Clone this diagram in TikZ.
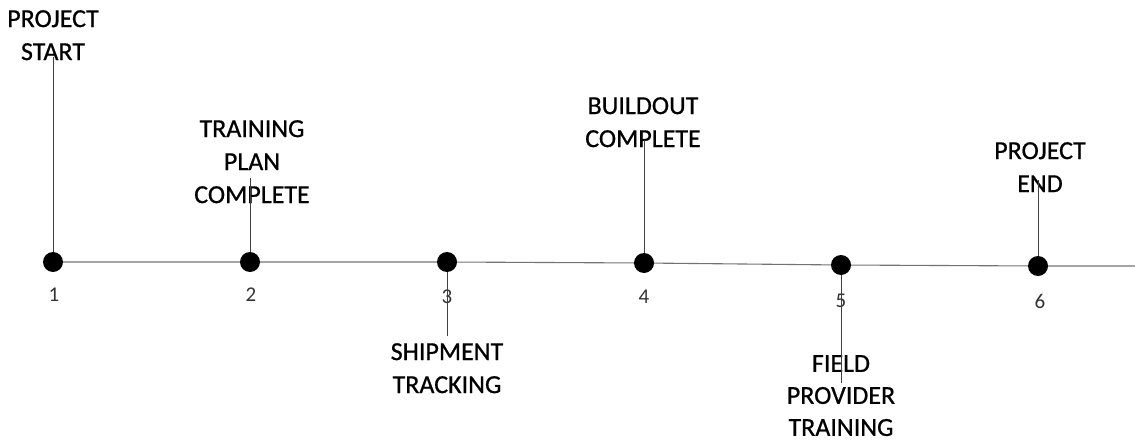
\documentclass[tikz,border=0pt]{standalone}
\usepackage{fontspec}
\setmainfont{Carlito}
\newfontfamily\lblfont{Carlito}[FakeBold=0.7]
\begin{document}
\begin{tikzpicture}[x=1pt,y=-1pt,
  dot/.style={circle,fill=black,inner sep=0pt,minimum size=20pt},
  lbl/.style={anchor=north,inner sep=0pt,align=center,font=\lblfont\fontsize{26}{33}\selectfont},
  num/.style={inner sep=0pt,text=black!80,font=\fontsize{21}{24}\selectfont},
  axis/.style={draw=black!55,line width=1.1pt},
  stem/.style={draw=black!75,line width=0.9pt}]
\useasboundingbox (0,0) rectangle (1135,444);
% dots
\node[dot] (d1) at (53,262) {};
\node[dot] (d2) at (250,262) {};
\node[dot] (d3) at (447,262) {};
\node[dot] (d4) at (644,263) {};
\node[dot] (d5) at (841,265) {};
\node[dot] (d6) at (1038,266) {};
\coordinate (aend) at (1135,266);
% axis
\draw[axis] (d1) -- (d2) -- (d3) -- (d4) -- (d5) -- (d6) -- (aend);
% numbers
\node[num] (n1) at (54,295) {1};
\node[num] (n2) at (251,295) {2};
\node[num] (n3) at (447,297) {3};
\node[num] (n4) at (644,297) {4};
\node[num] (n5) at (841,301) {5};
\node[num] (n6) at (1040,301) {6};
% labels
\node[lbl] (l1) at (53,10) {PROJECT\\START};
\node[lbl] (l2) at (252,120) {TRAINING\\PLAN\\COMPLETE};
\node[lbl] (l3) at (447,343) {SHIPMENT\\TRACKING};
\node[lbl] (l4) at (643,97) {BUILDOUT\\COMPLETE};
\node[lbl,font=\lblfont\fontsize{26}{32}\selectfont] (l5) at (841,355) {FIELD\\PROVIDER\\TRAINING};
\node[lbl] (l6) at (1040,142) {PROJECT\\END};
% stem ends
\coordinate (s1) at (53,57);
\coordinate (s2) at (250,178);
\coordinate (s3) at (447,336);
\coordinate (s4) at (644,140);
\coordinate (s5) at (841,383);
\coordinate (s6) at (1038,180);
\draw[stem] (s1) -- (d1);
\draw[stem] (s2) -- (d2);
\draw[stem] (d3) -- (s3);
\draw[stem] (s4) -- (d4);
\draw[stem] (d5) -- (s5);
\draw[stem] (s6) -- (d6);
\end{tikzpicture}
\end{document}
